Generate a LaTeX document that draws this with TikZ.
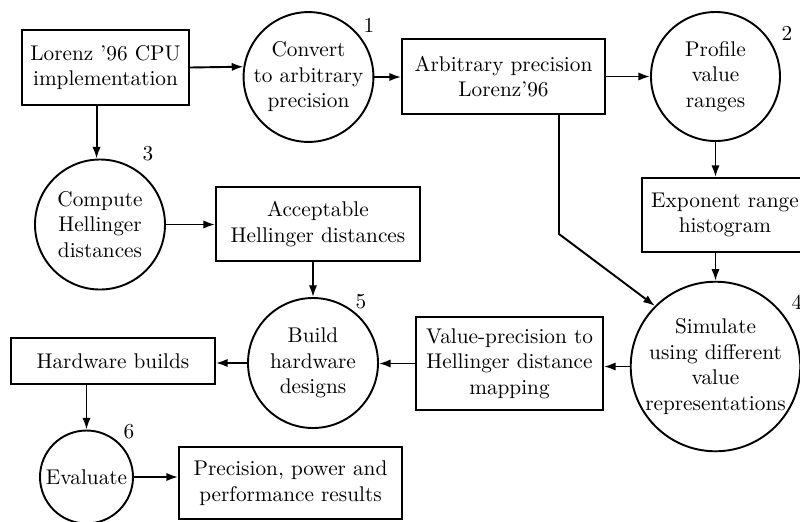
\documentclass[tikz,border=0pt]{standalone}
\usetikzlibrary{arrows.meta}
\begin{document}
\begin{tikzpicture}[x=0.47pt,y=-0.47pt, line width=0.9pt,
  box/.style={draw, rectangle, inner sep=0pt, align=center},
  proc/.style={draw, circle, inner sep=0pt, align=center},
  num/.style={inner sep=0pt},
  arr/.style={-{Latex[length=5.5pt,width=3.9pt]}}]
\useasboundingbox (0,0) rectangle (800,521);
\clip (0,0) rectangle (800,521);
\node[box, minimum width={167*0.47pt}, minimum height={75*0.47pt}] (b1) at (105.5,67.5) {Lorenz '96 CPU\\implementation};
\node[proc, minimum size={129*0.47pt}] (c1) at (308.5,77) {Convert\\to arbitrary\\precision};
\node[box, minimum width={203*0.47pt}, minimum height={75*0.47pt}] (b2) at (503.5,76.5) {Arbitrary precision\\Lorenz'96};
\node[proc, minimum size={129*0.47pt}] (c2) at (715.5,76.5) {Profile\\value\\ranges};
\node[box, minimum width={166*0.47pt}, minimum height={74*0.47pt}] (b3) at (725,215) {Exponent range\\histogram};
\node[proc, minimum size={167*0.47pt}] (c4) at (715.5,366.5) {Simulate\\using different\\value\\representations};
\node[box, minimum width={187*0.47pt}, minimum height={93*0.47pt}] (b4) at (509.5,363.5) {Value-precision to\\Hellinger distance\\mapping};
\node[proc, minimum size={130*0.47pt}] (c5) at (313,363) {Build\\hardware\\designs};
\node[box, minimum width={204*0.47pt}, minimum height={74*0.47pt}] (b5) at (318,224) {Acceptable\\Hellinger distances};
\node[proc, minimum size={130*0.47pt}] (c3) at (100,224.5) {Compute\\Hellinger\\distances};
\node[box, minimum width={204*0.47pt}, minimum height={46*0.47pt}] (b6) at (113,361) {Hardware builds};
\node[proc, minimum size={93*0.47pt}] (c6) at (86.5,477) {Evaluate};
\node[box, minimum width={223*0.47pt}, minimum height={72*0.47pt}] (b7) at (290.5,483) {Precision, power and\\performance results};
\node[num] (n1) at (369,25) {1};
\node[num] (n2) at (787,33) {2};
\node[num] (n3) at (148,154) {3};
\node[num] (n4) at (797,302) {4};
\node[num] (n5) at (361,302) {5};
\node[num] (n6) at (129,432) {6};
\coordinate (bend) at (559,234);
\draw[arr] (b1.east) -- (c1.171);
\draw[arr] (c1.east) -- (c1.east -| b2.west);
\draw[arr] (b2.east) -- (b2.east -| c2.west);
\draw[arr] (c2.south) -- (c2.south |- b3.north);
\draw[arr] (c4.north |- b3.south) -- (c4.north);
\draw[arr] (b2.south -| bend) -- (bend) -- (c4.135);
\draw[arr] (c4.west) -- (c4.west -| b4.east);
\draw[arr] (b4.west) -- (b4.west -| c5.east);
\draw[arr] (b5.south -| c5.north) -- (c5.north);
\draw[arr] (c3.east) -- (c3.east -| b5.west);
\draw[arr] (b1.south -| c3.93) -- (c3.93);
\draw[arr] (c5.west) -- (c5.west -| b6.east);
\draw[arr] (b6.south -| c6.north) -- (c6.north);
\draw[arr] (c6.east) -- (c6.east -| b7.west);
\end{tikzpicture}
\end{document}
